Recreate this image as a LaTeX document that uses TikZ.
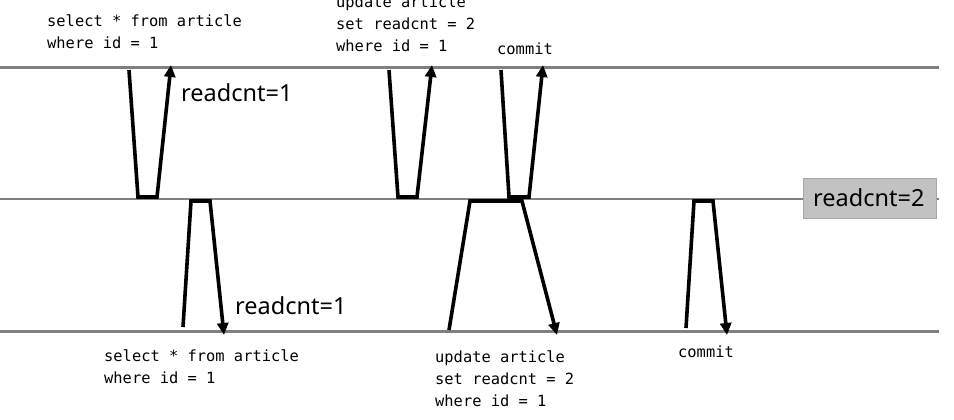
\documentclass[tikz,border=0pt]{standalone}
\usepackage{fontspec}
\setmainfont{Noto Sans}
\newfontfamily\codefont{DejaVu Sans Mono}
\usetikzlibrary{arrows.meta}
\begin{document}
\begin{tikzpicture}[x=1pt,y=-1pt,
  timeline/.style={draw=black!50,line width=2.8pt},
  flow/.style={draw=black,line width=3.6pt,line join=miter},
  flowarrow/.style={flow,-{Triangle[length=12pt,width=11pt]}},
  code/.style={font=\codefont\fontsize{15.4}{22}\selectfont,anchor=base west,inner sep=0pt,align=left},
  val/.style={font=\fontsize{23.5}{26}\selectfont,anchor=base west,inner sep=0pt},
  valbox/.style={draw=black!35,fill=black!24,minimum width=133pt,minimum height=40pt,inner sep=0pt}
]
\useasboundingbox (0,0) rectangle (954,420);
% timelines
\coordinate (tl) at (0,67.7);   \coordinate (tr) at (939,67.7);
\coordinate (ml) at (0,199);    \coordinate (mr) at (939,199);
\coordinate (bl) at (0,331.3);  \coordinate (br) at (939,331.3);
\draw[timeline] (tl) -- (tr);
\draw[timeline] (ml) -- (mr);
\draw[timeline] (bl) -- (br);
\node[valbox] (box) at (869.5,198) {};
\node[val] (rc2) at (813,206) {readcnt=2};

% top transaction flows
\coordinate (a1) at (129,70);  \coordinate (a2) at (138,197); \coordinate (a3) at (157,197); \coordinate (a4) at (171,65);
\draw[flowarrow] (a1) -- (a2) -- (a3) -- (a4);
\coordinate (b1) at (389,70);  \coordinate (b2) at (398,197); \coordinate (b3) at (417,197); \coordinate (b4) at (432,65);
\draw[flowarrow] (b1) -- (b2) -- (b3) -- (b4);
\coordinate (c1) at (501,70);  \coordinate (c2) at (509,197); \coordinate (c3) at (529,197); \coordinate (c4) at (543,65);
\draw[flowarrow] (c1) -- (c2) -- (c3) -- (c4);

% bottom transaction flows
\coordinate (d1) at (183,327); \coordinate (d2) at (191,201); \coordinate (d3) at (210,201); \coordinate (d4) at (224,335);
\draw[flowarrow] (d1) -- (d2) -- (d3) -- (d4);
\coordinate (e1) at (449,330); \coordinate (e2) at (470,201); \coordinate (e3) at (522,201); \coordinate (e4) at (557,335);
\draw[flowarrow] (e1) -- (e2) -- (e3) -- (e4);
\coordinate (f1) at (686,328); \coordinate (f2) at (694,201); \coordinate (f3) at (713,201); \coordinate (f4) at (727,335);
\draw[flowarrow] (f1) -- (f2) -- (f3) -- (f4);

% labels (base = baseline of the last line)
\node[code] (q1) at (47,48.6) {select * from article\\where id = 1};
\node[code] (q2) at (336,52) {update article\\set readcnt = 2\\where id = 1};
\node[code] (q3) at (497,55) {commit};
\node[code] (q4) at (104,383.5) {select * from article\\where id = 1};
\node[code] (q5) at (435,406) {update article\\set readcnt = 2\\where id = 1};
\node[code] (q6) at (678,357) {commit};
\node[val] (rc1a) at (181,102) {readcnt=1};
\node[val] (rc1b) at (235,314) {readcnt=1};
\end{tikzpicture}
\end{document}
